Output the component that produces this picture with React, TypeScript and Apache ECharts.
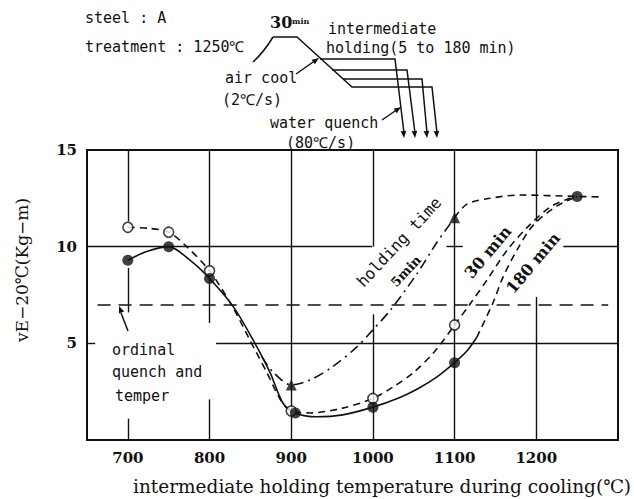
import React, { useEffect, useRef } from "react";
import * as echarts from "echarts";

// ---- data ----
const xTickLabels = [700, 800, 900, 1000, 1100, 1200];
const yTickLabels = [5, 10, 15];

// markers
const filledCircles = [[700, 9.3], [750, 10.0], [800, 8.35], [905, 1.4], [1000, 1.7], [1100, 4.0], [1250, 12.6]];
const openCircles = [[700, 11.0], [750, 10.75], [800, 8.75], [900, 1.5], [1000, 2.15], [1100, 5.95]];
const triangles = [[900, 2.85], [1100, 11.5]];

// curves
const curve180Solid = [[700, 9.3], [723, 9.75], [750, 10.0], [776, 9.3], [800, 8.35], [829, 6.9], [853, 5.2], [874, 3.5], [890, 1.9], [905, 1.4], [931, 1.2], [963, 1.3], [1000, 1.7], [1033, 2.2], [1055, 2.65], [1078, 3.25], [1100, 4.0], [1115, 4.6], [1127, 5.3]];
const curve180Dashed = [[1127, 5.3], [1147, 7.1], [1159, 8.4], [1176, 9.8], [1196, 11.1], [1225, 12.1], [1250, 12.6]];
const curve30 = [[700, 11.0], [725, 10.95], [750, 10.75], [772, 10.0], [800, 8.75], [828, 6.9], [849, 5.2], [870, 3.5], [888, 2.0], [900, 1.5], [923, 1.4], [963, 1.65], [1000, 2.15], [1025, 2.75], [1050, 3.5], [1075, 4.55], [1100, 5.95], [1120, 7.1], [1140, 8.3], [1164, 9.8], [1189, 11.0], [1217, 12.05], [1241, 12.5], [1250, 12.6]];
const curve5DashDot = [[864, 4.3], [878, 3.5], [900, 2.85], [923, 3.1], [951, 3.8], [980, 4.8], [1000, 5.7], [1021, 6.7], [1054, 8.6], [1078, 10.2], [1100, 11.5]];
const curve5Dashed = [[1100, 11.5], [1115, 12.2], [1143, 12.5], [1180, 12.67], [1250, 12.6], [1282, 12.57]];

// reference level (ordinal quench and temper)
const referenceLevel = 7;
const referenceSpan = [663, 1288];

// visible grid line segments (gaps as in the reference)
const gridVertical = [
  [700, 15, 11.3], [700, 8.9, 6.6], [700, 1.1, 0],
  [800, 15, 8.9], [800, 8.3, 6.05], [800, 2.1, 0],
  [900, 15, 0],
  [1000, 15, 10], [1000, 6.5, 0],
  [1100, 15, 0],
  [1200, 15, 11.3], [1200, 7.4, 0],
];
const gridHorizontal = [
  [10, 650, 999], [10, 1090, 1110], [10, 1233, 1300],
  [5, 650, 660], [5, 808, 1300],
];

const INK = "#111";
const MONO = "'DejaVu Sans Mono', monospace";
const SERIF = "'DejaVu Serif', serif";

function txt(text: string, x: number, y: number, font: string, extra: any = {}) {
  return {
    type: "text",
    x,
    y,
    silent: true,
    ...extra,
    style: { text, font, fill: INK, textAlign: extra.align || "left", textVerticalAlign: "middle" },
  };
}
function arrowHead(x: number, y: number, angle: number, size = 6) {
  const bx = x - Math.cos(angle) * size;
  const by = y - Math.sin(angle) * size;
  const px = -Math.sin(angle) * size * 0.4;
  const py = Math.cos(angle) * size * 0.4;
  return {
    type: "polygon",
    silent: true,
    shape: { points: [[x, y], [bx + px, by + py], [bx - px, by - py]] },
    style: { fill: INK },
  };
}
function seg(x1: number, y1: number, x2: number, y2: number, w = 1.5) {
  return { type: "line", silent: true, shape: { x1, y1, x2, y2 }, style: { stroke: INK, lineWidth: w } };
}

export default function App() {
  const ref = useRef<HTMLDivElement>(null);
  useEffect(() => {
    if (!ref.current) return;
    const chart = echarts.init(ref.current, undefined, { renderer: "svg" });

    const gridLines: any[] = [];
    gridVertical.forEach(([x, y1, y2]) => gridLines.push([{ coord: [x, y1] }, { coord: [x, y2] }]));
    gridHorizontal.forEach(([y, x1, x2]) => gridLines.push([{ coord: [x1, y] }, { coord: [x2, y] }]));

    const lineSeries = (data: number[][], type: any, z = 3) => ({
      type: "line",
      data,
      smooth: 0.3,
      symbol: "none",
      silent: true,
      z,
      lineStyle: { color: INK, width: 1.6, type },
    });

    const branchArrowXs = [404, 415, 427, 437];

    chart.setOption({
      animation: false,
      backgroundColor: "#fff",
      grid: { left: 87, top: 150, right: 16, bottom: 59, show: true, borderColor: INK, borderWidth: 2, backgroundColor: "transparent" },
      xAxis: {
        type: "value",
        min: 650,
        max: 1300,
        interval: 50,
        axisLine: { show: true, lineStyle: { color: INK, width: 2 } },
        axisTick: { show: false },
        splitLine: { show: false },
        axisLabel: {
          color: INK,
          fontFamily: SERIF,
          fontWeight: "bold",
          fontSize: 15,
          margin: 10,
          formatter: (v: number) => (xTickLabels.includes(v) ? String(v) : ""),
        },
      },
      yAxis: {
        type: "value",
        min: 0,
        max: 15,
        interval: 5,
        axisLine: { show: true, lineStyle: { color: INK, width: 2 } },
        axisTick: { show: false },
        splitLine: { show: false },
        axisLabel: {
          color: INK,
          fontFamily: SERIF,
          fontWeight: "bold",
          fontSize: 15,
          margin: 10,
          formatter: (v: number) => (yTickLabels.includes(v) ? String(v) : ""),
        },
      },
      series: [
        {
          type: "line",
          data: [],
          silent: true,
          markLine: {
            silent: true,
            symbol: "none",
            label: { show: false },
            lineStyle: { color: INK, width: 1.4, type: "solid" },
            data: gridLines,
          },
        },
        {
          type: "line",
          data: [],
          silent: true,
          markLine: {
            silent: true,
            symbol: "none",
            label: { show: false },
            lineStyle: { color: INK, width: 1.5, type: [13, 8] },
            data: [[{ coord: [referenceSpan[0], referenceLevel] }, { coord: [referenceSpan[1], referenceLevel] }]],
          },
        },
        lineSeries(curve180Solid, "solid"),
        lineSeries(curve180Dashed, [7, 5]),
        lineSeries(curve30, [7, 5]),
        lineSeries(curve5DashDot, [10, 5, 2, 5]),
        lineSeries(curve5Dashed, [7, 5]),
        {
          type: "scatter",
          data: openCircles,
          symbol: "circle",
          symbolSize: 10,
          z: 5,
          itemStyle: { color: "#fff", borderColor: INK, borderWidth: 1.6 },
        },
        {
          type: "scatter",
          data: filledCircles,
          symbol: "circle",
          symbolSize: 11,
          z: 6,
          itemStyle: { color: INK },
        },
        {
          type: "scatter",
          data: triangles,
          symbol: "triangle",
          symbolSize: 11,
          z: 6,
          itemStyle: { color: INK },
        },
      ],
      graphic: [
        // header texts
        txt("steel : A", 85, 18, `15px ${MONO}`),
        txt("treatment : 1250℃", 85, 47, `15px ${MONO}`),
        txt("30", 270, 22, `bold 16px ${SERIF}`),
        txt("min", 292, 21, `bold 8px ${SERIF}`),
        txt("intermediate", 328, 29, `15px ${MONO}`),
        txt("holding(5 to 180 min)", 326, 48, `15px ${MONO}`),
        txt("air cool", 225, 78, `15px ${MONO}`),
        txt("(2℃/s)", 222, 100, `15px ${MONO}`),
        txt("water quench", 270, 123, `15px ${MONO}`),
        txt("(80℃/s)", 286, 143, `15px ${MONO}`),
        // heat treatment schematic
        {
          type: "bezierCurve",
          silent: true,
          shape: { x1: 253, y1: 62, x2: 273, y2: 37, cpx1: 264, cpy1: 52 },
          style: { stroke: INK, lineWidth: 1.5, fill: "none" },
        },
        {
          type: "polyline",
          silent: true,
          shape: { points: [[273, 37], [297, 37], [352, 87], [432, 87], [437, 133]] },
          style: { stroke: INK, lineWidth: 1.5, fill: "none" },
        },
        {
          type: "polyline",
          silent: true,
          shape: { points: [[320, 59], [395, 59], [404, 133]] },
          style: { stroke: INK, lineWidth: 1.5, fill: "none" },
        },
        {
          type: "polyline",
          silent: true,
          shape: { points: [[332, 70], [407, 70], [415, 133]] },
          style: { stroke: INK, lineWidth: 1.5, fill: "none" },
        },
        {
          type: "polyline",
          silent: true,
          shape: { points: [[343, 79], [422, 79], [427, 133]] },
          style: { stroke: INK, lineWidth: 1.5, fill: "none" },
        },
        ...branchArrowXs.map((x) => arrowHead(x, 138, Math.PI / 2 - 0.08, 7)),
        seg(296, 74, 316, 60),
        arrowHead(319, 58, Math.atan2(-14, 20), 7),
        seg(382, 120, 398, 109),
        arrowHead(401, 107, Math.atan2(-11, 16), 7),
        // plot annotations
        txt("ordinal", 112, 350, `15px ${MONO}`),
        txt("quench and", 112, 372, `15px ${MONO}`),
        txt("temper", 115, 396, `15px ${MONO}`),
        seg(128, 331, 121, 313),
        arrowHead(119, 306, Math.atan2(-18, -7), 7),
        txt("holding time", 399, 242, `16px ${MONO}`, { rotation: 0.82, align: "center" }),
        txt("5min", 406, 271, `bold 13px ${SERIF}`, { rotation: 0.82, align: "center" }),
        txt("30 min", 488, 252, `bold 16px ${SERIF}`, { rotation: 0.87, align: "center" }),
        txt("180 min", 533, 263, `bold 16px ${SERIF}`, { rotation: 0.87, align: "center" }),
        // axis titles
        txt("vE−20℃(Kg−m)", 22, 270, `17px ${SERIF}`, { rotation: Math.PI / 2, align: "center" }),
        txt("intermediate holding temperature during cooling(℃)", 133, 486, `18.5px ${SERIF}`),
      ],
    });
    return () => chart.dispose();
  }, []);
  return <div ref={ref} style={{ position: "fixed", left: 0, top: 0, width: 634, height: 499 }} />;
}
